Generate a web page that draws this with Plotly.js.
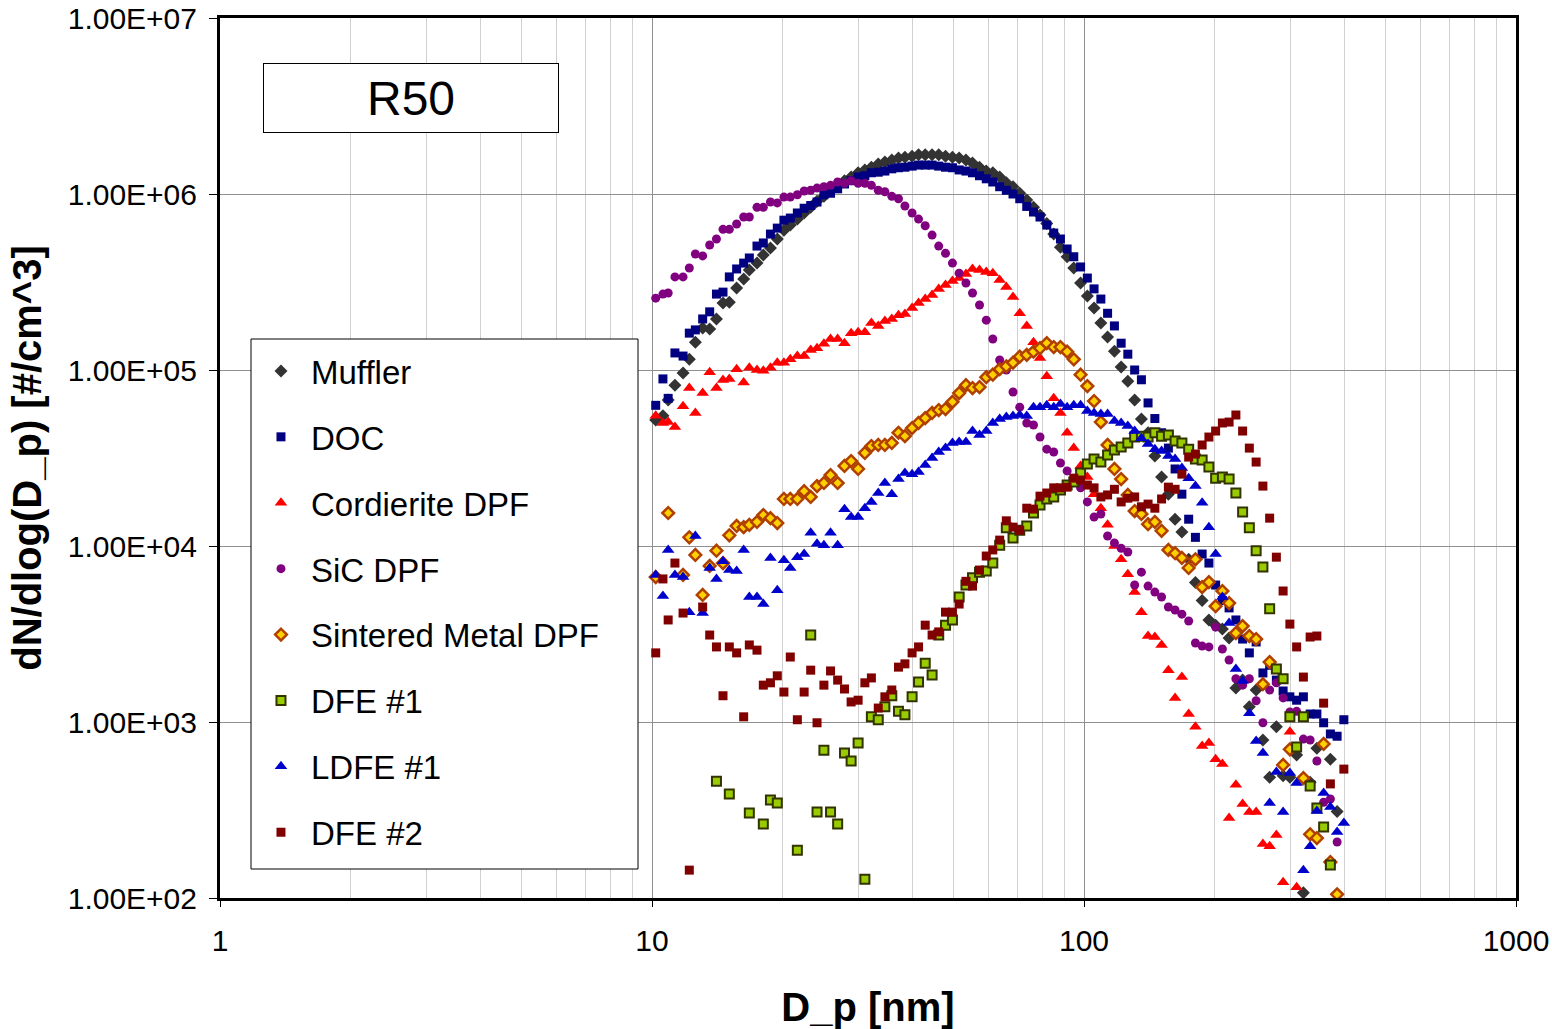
<!DOCTYPE html>
<html>
<head>
<meta charset="utf-8">
<script src="https://cdn.plot.ly/plotly-3.0.1.min.js"></script>
<style>html,body{margin:0;padding:0;background:#fff;}#chart{width:1552px;height:1029px;}</style>
</head>
<body>
<div id="chart"></div>
<script>
// Particle diameters [nm] (SMPS channels)
const diameters = [10.2,10.6,10.9,11.3,11.8,12.2,12.6,13.1,13.6,14.1,14.6,15.1,15.7,16.3,16.8,17.5,18.1,18.8,19.5,20.2,20.9,21.7,22.5,23.3,24.1,25.0,25.9,26.9,27.9,28.9,30.0,31.1,32.2,33.4,34.6,35.9,37.2,38.5,40.0,41.4,42.9,44.5,46.1,47.8,49.6,51.4,53.3,55.2,57.3,59.4,61.5,63.8,66.1,68.5,71.0,73.7,76.4,79.1,82.0,85.1,88.2,91.4,94.7,98.2,101.8,105.5,109.4,113.4,117.6,121.9,126.3,131.0,135.8,140.7,145.9,151.2,156.8,162.5,168.5,174.7,181.1,187.7,194.6,201.7,209.1,216.7,224.7,232.9,241.4,250.3,259.5,269.0,278.8,289.0,299.6,310.6,322.0,333.8,346.0,358.7,371.8,385.4,399.5];

const muffler = [5.2e4,5.5e4,6.75e4,8.2e4,9.6e4,1.15e5,1.44e5,1.73e5,1.71e5,1.95e5,
 2.4e5,2.43e5,2.92e5,3.29e5,3.7e5,4.05e5,4.5e5,4.93e5,5.55e5,6.23e5,
 6.66e5,7.2e5,7.8e5,8.4e5,9.1e5,9.7e5,1.05e6,1.12e6,1.19e6,1.25e6,
 1.32e6,1.37e6,1.42e6,1.48e6,1.52e6,1.56e6,1.6e6,1.62e6,1.64e6,1.67e6,
 1.67e6,1.67e6,1.67e6,1.64e6,1.62e6,1.6e6,1.56e6,1.5e6,1.42e6,1.35e6,
 1.32e6,1.25e6,1.16e6,1.1e6,1.01e6,9.25e5,8.4e5,7.6e5,6.8e5,5.92e5,
 4.99e5,4.4e5,3.8e5,3.12e5,2.63e5,2.25e5,1.85e5,1.54e5,1.28e5,1.04e5,
 8.64e4,6.75e4,5.27e4,4.4e4,3.25e4,2.47e4,1.97e4,1.42e4,1.2e4,8.4e3,
 6.2e3,4.9e3,3.8e3,3.55e3,3.38e3,3.0e3,1.56e3,1.73e3,1.22e3,1.52e3,
 7.9e2,4.85e2,9.4e2,4.95e2,4.85e2,6.5e2,1.07e2,4.55e2,7.1e2,null,
 6.15e2,3.1e2,null];

const doc = [6.3e4,8.9e4,6.9e4,1.25e5,1.2e5,1.62e5,1.69e5,1.95e5,2.14e5,2.7e5,
 2.77e5,3.38e5,3.75e5,4.05e5,4.33e5,5.06e5,5.27e5,5.92e5,6.4e5,7.1e5,
 7.3e5,7.8e5,8.3e5,8.6e5,9.0e5,9.9e5,1.01e6,1.07e6,1.14e6,1.19e6,
 1.25e6,1.27e6,1.32e6,1.33e6,1.35e6,1.39e6,1.41e6,1.42e6,1.44e6,1.46e6,
 1.46e6,1.46e6,1.44e6,1.42e6,1.41e6,1.37e6,1.35e6,1.32e6,1.27e6,1.22e6,
 1.17e6,1.1e6,1.05e6,1.0e6,9.4e5,8.5e5,7.9e5,7.4e5,6.66e5,6.0e5,
 5.55e5,4.87e5,4.4e5,3.85e5,3.33e5,2.89e5,2.53e5,2.1e5,1.78e5,1.42e5,
 1.23e5,1.0e5,8.8e4,6.5e4,5.3e4,4.4e4,3.6e4,2.74e4,1.97e4,1.42e4,
 1.12e4,9.0e3,8.0e3,6.0e3,4.9e3,4.45e3,3.8e3,2.96e3,2.47e3,2.85e3,
 1.9e3,2.1e3,1.73e3,1.5e3,1.39e3,1.33e3,1.39e3,1.11e3,1.11e3,9.9e2,
 8.55e2,8.3e2,1.03e3];

const cordierite = [5.5e4,5.0e4,5.06e4,4.74e4,6.23e4,7.9e4,5.7e4,7.4e4,9.7e4,7.9e4,
 8.77e4,8.9e4,1.01e5,8.5e4,1.03e5,1.0e5,9.9e4,1.03e5,1.1e5,1.1e5,
 1.15e5,1.2e5,1.2e5,1.3e5,1.33e5,1.41e5,1.5e5,1.5e5,1.42e5,1.62e5,
 1.64e5,1.64e5,1.85e5,1.78e5,1.9e5,1.95e5,2.05e5,2.08e5,2.25e5,2.4e5,
 2.53e5,2.67e5,2.89e5,3.04e5,3.2e5,3.33e5,3.51e5,3.75e5,3.7e5,3.6e5,
 3.55e5,3.25e5,2.96e5,2.6e5,2.1e5,1.78e5,1.44e5,1.17e5,9.2e4,6.9e4,
 5.7e4,4.4e4,3.6e4,2.85e4,2.47e4,1.97e4,1.64e4,1.32e4,1.0e4,8.4e3,
 6.9e3,5.47e3,4.2e3,3.08e3,3.04e3,2.74e3,1.97e3,1.37e3,1.8e3,1.11e3,
 9.4e2,7.3e2,7.6e2,6.15e2,5.77e2,2.85e2,4.4e2,3.42e2,3.08e2,3.08e2,
 2.03e2,1.97e2,2.28e2,1.23e2,8.8e2,1.15e2,null,null,null,null,
 null,null,null];

const sic = [2.56e5,2.7e5,2.74e5,3.38e5,3.38e5,3.8e5,4.56e5,4.45e5,5.13e5,5.55e5,
 6.3e5,6.3e5,6.75e5,7.4e5,7.4e5,8.4e5,8.4e5,9.0e5,8.9e5,9.6e5,
 9.6e5,9.9e5,1.04e6,1.05e6,1.08e6,1.1e6,1.12e6,1.17e6,1.15e6,1.19e6,
 1.15e6,1.15e6,1.12e6,1.05e6,1.03e6,9.7e5,9.4e5,8.55e5,7.8e5,7.2e5,
 6.6e5,5.84e5,5.06e5,4.6e5,4.05e5,3.55e5,3.12e5,2.74e5,2.34e5,1.92e5,
 1.5e5,1.14e5,1.0e5,7.5e4,6.15e4,5.0e4,4.87e4,4.16e4,3.55e4,3.42e4,
 2.96e4,2.67e4,2.37e4,2.14e4,1.78e4,1.46e4,1.52e4,1.14e4,1.04e4,9.7e3,
 9.25e3,6.0e3,7.1e3,5.92e3,5.47e3,5.13e3,4.5e3,4.33e3,4.1e3,3.75e3,
 2.81e3,2.7e3,2.67e3,3.46e3,2.6e3,2.25e3,1.76e3,1.62e3,1.76e3,1.32e3,
 9.9e2,1.52e3,1.67e3,1.37e3,1.14e3,1.15e3,8.0e2,7.9e2,6.0e2,3.5e2,
 3.65e2,2.08e2,null];

const sinteredMetal = [6.66e3,null,1.54e4,null,6.85e3,1.12e4,8.9e3,5.27e3,7.7e3,9.4e3,
 8.0e3,1.15e4,1.3e4,1.28e4,1.32e4,1.37e4,1.5e4,1.44e4,1.35e4,1.85e4,
 1.85e4,1.85e4,2.05e4,1.9e4,2.19e4,2.28e4,2.53e4,2.28e4,2.85e4,3.04e4,
 2.74e4,3.38e4,3.7e4,3.75e4,3.75e4,3.85e4,4.4e4,4.21e4,4.68e4,5.0e4,
 5.33e4,5.7e4,5.92e4,6.0e4,6.6e4,7.4e4,8.2e4,7.9e4,8.0e4,9.1e4,
 9.4e4,1.01e5,1.05e5,1.1e5,1.19e5,1.22e5,1.27e5,1.33e5,1.42e5,1.35e5,
 1.35e5,1.27e5,1.15e5,9.4e4,8.1e4,6.66e4,5.06e4,3.75e4,2.74e4,2.4e4,
 1.95e4,1.58e4,1.52e4,1.33e4,1.37e4,1.22e4,9.5e3,9.1e3,8.55e3,7.5e3,
 8.4e3,5.84e3,6.23e3,4.55e3,5.55e3,4.74e3,3.2e3,3.51e3,3.08e3,2.96e3,
 1.64e3,2.19e3,null,5.7e2,7.0e2,null,4.8e2,2.3e2,2.19e2,7.5e2,
 1.6e2,1.05e2,null];

const dfe1 = [null,null,null,null,null,null,null,null,null,4.6e2,
 null,3.9e2,null,null,3.04e2,null,2.63e2,3.6e2,3.46e2,null,
 null,1.87e2,null,3.12e3,3.08e2,6.9e2,3.08e2,2.63e2,6.66e2,6.0e2,
 7.6e2,1.28e2,1.07e3,1.03e3,1.22e3,1.41e3,1.15e3,1.1e3,1.39e3,1.69e3,
 2.16e3,1.85e3,3.12e3,3.55e3,3.8e3,5.13e3,6.0e3,6.6e3,7.1e3,7.2e3,
 8.0e3,1.01e4,1.27e4,1.11e4,1.23e4,1.3e4,1.54e4,1.71e4,1.85e4,1.9e4,
 2.08e4,2.22e4,2.31e4,2.6e4,2.92e4,3.12e4,3.0e4,3.29e4,3.51e4,3.65e4,
 3.85e4,4.16e4,4.21e4,4.16e4,4.4e4,4.21e4,4.27e4,3.95e4,3.85e4,3.55e4,
 3.12e4,3.08e4,2.81e4,2.43e4,2.47e4,2.4e4,2.0e4,1.56e4,1.27e4,9.4e3,
 7.6e3,4.4e3,2.0e3,1.76e3,1.07e3,7.2e2,1.07e3,4.33e2,3.25e2,2.53e2,
 1.54e2,null,null];

const ldfe1 = [6.85e3,5.2e3,9.5e3,6.85e3,6.66e3,4.21e3,1.14e4,4.16e3,7.5e3,6.5e3,
 8.2e3,7.3e3,7.2e3,9.5e3,5.13e3,5.13e3,4.68e3,8.55e3,5.6e3,8.3e3,
 7.5e3,8.64e3,9.0e3,1.19e4,1.03e4,1.01e4,1.19e4,1.01e4,1.62e4,1.46e4,
 1.46e4,1.64e4,1.78e4,2.0e4,2.28e4,1.97e4,2.4e4,2.6e4,2.56e4,2.63e4,
 2.89e4,3.16e4,3.42e4,3.6e4,3.85e4,3.9e4,3.9e4,4.5e4,4.27e4,4.5e4,
 5.0e4,5.27e4,5.4e4,5.47e4,5.55e4,5.47e4,6.15e4,6.15e4,6.3e4,6.15e4,
 6.4e4,6.15e4,6.3e4,6.3e4,5.84e4,5.7e4,5.63e4,5.63e4,5.13e4,5.0e4,
 4.8e4,4.5e4,4.1e4,3.8e4,3.55e4,3.46e4,3.25e4,3.12e4,2.77e4,2.43e4,
 2.19e4,1.76e4,1.28e4,9.0e3,5.13e3,3.65e3,2.0e3,1.71e3,1.12e3,7.8e2,
 6.66e2,3.46e2,5.2e2,3.08e2,5.13e2,4.5e2,1.44e2,1.97e2,3.12e2,3.95e2,
 3.29e2,2.37e2,2.67e2];

const dfe2 = [2.47e3,6.5e3,3.8e3,8.0e3,4.16e3,1.44e2,null,4.5e3,3.12e3,2.67e3,
 1.41e3,2.67e3,2.47e3,1.07e3,2.74e3,2.56e3,1.62e3,1.67e3,1.83e3,1.48e3,
 2.34e3,1.03e3,1.48e3,1.97e3,9.9e2,1.62e3,1.95e3,1.73e3,1.54e3,1.3e3,
 1.33e3,1.67e3,1.78e3,1.2e3,1.39e3,1.52e3,2.05e3,2.14e3,2.47e3,2.67e3,
 3.55e3,3.12e3,3.25e3,4.21e3,4.21e3,4.68e3,6.3e3,5.92e3,7.3e3,8.77e3,
 9.5e3,1.08e4,1.39e4,1.28e4,1.23e4,1.64e4,1.62e4,1.92e4,2.0e4,2.14e4,
 2.14e4,2.16e4,2.43e4,2.37e4,2.22e4,2.14e4,1.9e4,1.95e4,2.1e4,1.78e4,
 1.87e4,1.9e4,1.67e4,1.73e4,1.64e4,1.85e4,2.16e4,2.1e4,2.56e4,3.2e4,
 3.33e4,3.75e4,4.16e4,4.5e4,5.0e4,5.06e4,5.55e4,4.5e4,3.6e4,3.0e4,
 2.19e4,1.44e4,8.64e3,5.55e3,3.6e3,2.67e3,1.8e3,3.04e3,3.08e3,1.28e3,
 4.45e2,null,5.4e2];

const seriesNames = ["Muffler","DOC","Cordierite DPF","SiC DPF","Sintered Metal DPF","DFE #1","LDFE #1","DFE #2"];
const seriesValues = [muffler, doc, cordierite, sic, sinteredMetal, dfe1, ldfe1, dfe2];
const xTickVals = [1, 10, 100, 1000];
const xTickText = ["1", "10", "100", "1000"];
const yTickVals = [1e2, 1e3, 1e4, 1e5, 1e6, 1e7];
const yTickText = ["1.00E+02", "1.00E+03", "1.00E+04", "1.00E+05", "1.00E+06", "1.00E+07"];

const markerStyles = [
  {symbol: "diamond", size: 10, color: "#333333"},
  {symbol: "square", size: 9, color: "#000080"},
  {symbol: "triangle-up", size: 11, color: "#FF0000"},
  {symbol: "circle", size: 9, color: "#800080"},
  {symbol: "diamond", size: 9, color: "#FFD000", line: {color: "#B04000", width: 2.5}},
  {symbol: "square", size: 9, color: "#99CC00", line: {color: "#333300", width: 2}},
  {symbol: "triangle-up", size: 11, color: "#0000CC"},
  {symbol: "square", size: 9, color: "#800000"}
];

const FONT = "Liberation Sans, Arial, sans-serif";

const traces = seriesNames.map((nm, k) => ({
  type: "scatter",
  mode: "markers",
  name: nm,
  legendgroup: "g" + k,
  x: diameters,
  y: seriesValues[k],
  marker: Object.assign({line: {width: 0}}, markerStyles[k]),
  cliponaxis: true
}));

const layout = {
  width: 1552,
  height: 1029,
  margin: {l: 220, r: 36, t: 18, b: 131},
  paper_bgcolor: "#ffffff",
  plot_bgcolor: "#ffffff",
  font: {family: FONT, color: "#000"},
  showlegend: true,
  legend: {
    x: 0.0239, y: 0.6307, xanchor: "left", yanchor: "top",
    bgcolor: "rgba(255,255,255,0)", bordercolor: "#000", borderwidth: 0,
    font: {family: FONT, size: 33, color: "#000"},
    tracegroupgap: 20,
    itemsizing: "trace",
    itemwidth: 50
  },
  xaxis: {
    type: "log",
    range: [0, 3],
    tickmode: "array",
    tickvals: xTickVals,
    ticktext: xTickText,
    tickfont: {family: FONT, size: 30},
    ticks: "outside", ticklen: 6, tickcolor: "#000",
    ticklabelstandoff: 8,
    showgrid: true, gridcolor: "#909090", gridwidth: 1,
    minor: {dtick: "D1", showgrid: true, gridcolor: "#d0d0d0", gridwidth: 1, ticks: ""},
    showline: true, linecolor: "#000", linewidth: 3, mirror: true,
    zeroline: false,
    title: {text: "<b>D_p [nm]</b>", font: {family: FONT, size: 40}, standoff: 38}
  },
  yaxis: {
    type: "log",
    range: [2, 7],
    tickmode: "array",
    tickvals: yTickVals,
    ticktext: yTickText,
    tickfont: {family: FONT, size: 30},
    ticks: "outside", ticklen: 8, tickcolor: "#000",
    ticklabelstandoff: 6,
    showgrid: true, gridcolor: "#909090", gridwidth: 1,
    showline: true, linecolor: "#000", linewidth: 3, mirror: true,
    zeroline: false,
    title: {text: "<b>dN/dlog(D_p) [#/cm^3]</b>", font: {family: FONT, size: 40}, standoff: 14}
  },
  shapes: [{
    type: "rect", xref: "paper", yref: "paper", layer: "above",
    x0: (251 - 220) / 1296, x1: (638 - 220) / 1296,
    y0: (898 - 869) / 880, y1: (898 - 339) / 880,
    line: {color: "#000", width: 1}, fillcolor: "#ffffff"
  }],
  annotations: [{
    xref: "paper", yref: "paper",
    x: (411 - 220) / 1296, y: (898 - 98) / 880,
    xanchor: "center", yanchor: "middle",
    text: "R50", showarrow: false,
    font: {family: FONT, size: 48, color: "#000"},
    bgcolor: "#ffffff", bordercolor: "#000", borderwidth: 1,
    width: 292, height: 66
  }]
};

Plotly.newPlot("chart", traces, layout, {displayModeBar: false, staticPlot: true});
</script>
</body>
</html>
